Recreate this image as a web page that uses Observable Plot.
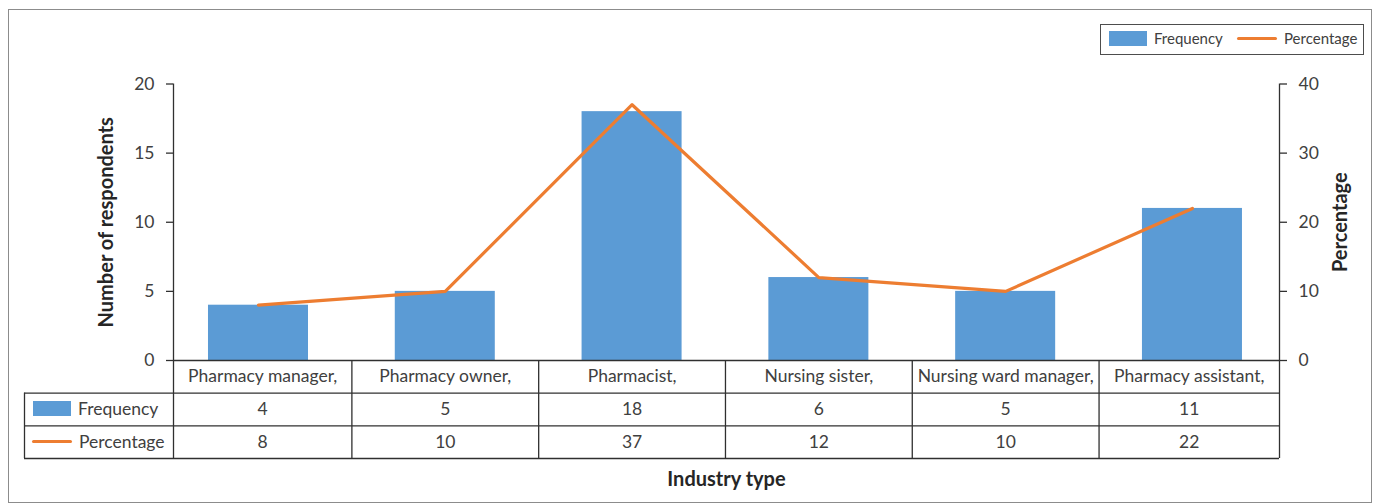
<!DOCTYPE html>
<html>
<head>
<meta charset="utf-8">
<script src="https://cdn.jsdelivr.net/npm/d3@7"></script>
<script src="https://cdn.jsdelivr.net/npm/@observablehq/plot@0.6"></script>
<style>
  body { margin: 0; background: #fff; }
  #chart { position: relative; width: 1375px; height: 503px; overflow: hidden; font-family: Lato, "Open Sans", sans-serif; color: #404040; }
  #chart svg { position: absolute; left: 0; top: 0; }
  .frame { position: absolute; left: 8px; top: 9px; width: 1364px; height: 494px; border: 1px solid #8c8c8c; box-sizing: border-box; }
  .legend { position: absolute; left: 1100px; top: 24px; width: 264px; height: 31px; border: 1px solid #4d4d4d; box-sizing: border-box; }
  .key { position: absolute; display: flex; align-items: center; white-space: nowrap; }
  .swatch-bar { width: 38px; height: 15px; background: #5B9BD5; margin-right: 7px; }
  .swatch-line { width: 40px; height: 3px; background: #ED7D31; border-radius: 2px; margin-right: 7px; }
</style>
</head>
<body>
<div id="chart">
  <div class="frame"></div>
</div>
<script>
// Respondents by industry type
const categories = ["Pharmacy manager,", "Pharmacy owner,", "Pharmacist,", "Nursing sister,", "Nursing ward manager,", "Pharmacy assistant,"];
const frequency = [4, 5, 18, 6, 5, 11];
const percentage = [8, 10, 37, 12, 10, 22];
const countTicks = [0, 5, 10, 15, 20];
const percentTicks = [0, 10, 20, 30, 40];
const seriesNames = ["Frequency", "Percentage"];

const W = 1375, H = 503;
const blue = "#5B9BD5", orange = "#ED7D31", ink = "#404040", ruleColor = "#303030", titleInk = "#262626";
const font = "Lato, 'Open Sans', sans-serif";
const textSize = 17.5, titleSize = 20;

// plot frame in pixels
const frameLeft = 173, frameRight = 1279, frameTop = 83.5, frameBottom = 360;
// x is the category index; the frame edges sit a little inside the outer bands
const xDomain = [-0.455, 5.466];
const unit = (frameRight - frameLeft) / (xDomain[1] - xDomain[0]);
const tableLeft = 24;
const tableXMin = xDomain[0] - (frameLeft - tableLeft) / unit;
const rowBottom = 458;

const countMax = countTicks[countTicks.length - 1];
const pctMax = percentTicks[percentTicks.length - 1];
const pctToCount = countMax / pctMax;

const data = categories.map((c, i) => ({ c, i, f: frequency[i], p: percentage[i] }));
const half = 0.2677; // half bar width in category units

const main = Plot.plot({
  width: W, height: H,
  marginLeft: frameLeft, marginRight: W - frameRight, marginTop: frameTop, marginBottom: H - frameBottom,
  x: { domain: xDomain, axis: null },
  y: { domain: [0, countMax], axis: null },
  style: { fontFamily: font, fontSize: textSize + "px", color: ink, background: "transparent", overflow: "visible" },
  marks: [
    Plot.rect(data, { x1: d => d.i - half, x2: d => d.i + half, y1: 0, y2: "f", fill: blue }),
    Plot.line(data, { x: "i", y: d => d.p * pctToCount, stroke: orange, strokeWidth: 3.2, strokeLinejoin: "round", strokeLinecap: "round" }),
    Plot.ruleX(xDomain, { y1: 0, y2: countMax, stroke: ruleColor, strokeWidth: 1.3 }),
    Plot.axisY(countTicks, { anchor: "left", tickSize: 7, tickPadding: 12, stroke: ruleColor, strokeWidth: 1.3, fill: ink, fontSize: textSize, label: null }),
    Plot.axisY(percentTicks.map(v => v * pctToCount), { anchor: "right", tickSize: 7, tickPadding: 12, tickFormat: v => v / pctToCount, stroke: ruleColor, strokeWidth: 1.3, fill: ink, fontSize: textSize, label: null }),
    Plot.text(["Number of respondents"], { frameAnchor: "left", textAnchor: "middle", dx: -67, rotate: -90, fontWeight: "bold", fontSize: titleSize, fill: titleInk }),
    Plot.text(["Percentage"], { frameAnchor: "right", textAnchor: "middle", dx: 61, rotate: -90, fontWeight: "bold", fontSize: titleSize, fill: titleInk }),
    Plot.text(["Industry type"], { frameAnchor: "bottom", dy: 125, fontWeight: "bold", fontSize: titleSize, fill: titleInk })
  ]
});

// data table under the axis: row 0 holds the category names, rows 1-2 the values
const edges = [xDomain[0], ...categories.slice(1).map((_, i) => i + 0.5), xDomain[1]];
const cells = data.map((d, i) => ({ ...d, cx: (edges[i] + edges[i + 1]) / 2 }));

const table = Plot.plot({
  width: W, height: H,
  marginLeft: tableLeft, marginRight: W - frameRight, marginTop: frameBottom, marginBottom: H - rowBottom,
  x: { domain: [tableXMin, xDomain[1]], axis: null },
  y: { domain: [0, 3], reverse: true, axis: null },
  style: { fontFamily: font, fontSize: textSize + "px", color: ink, background: "transparent", overflow: "visible" },
  marks: [
    Plot.ruleY([0], { x1: xDomain[0], x2: xDomain[1], stroke: ruleColor, strokeWidth: 1.3 }),
    Plot.ruleY([1, 2, 3], { x1: tableXMin, x2: xDomain[1], stroke: ruleColor, strokeWidth: 1.3 }),
    Plot.ruleX([tableXMin], { y1: 1, y2: 3, stroke: ruleColor, strokeWidth: 1.3 }),
    Plot.ruleX(edges, { y1: 0, y2: 3, stroke: ruleColor, strokeWidth: 1.3 }),
    Plot.text(cells, { x: "cx", y: 0.5, text: "c", fill: ink, fontSize: textSize }),
    Plot.text(cells, { x: "cx", y: 1.5, text: d => String(d.f), fill: ink, fontSize: textSize }),
    Plot.text(cells, { x: "cx", y: 2.5, text: d => String(d.p), fill: ink, fontSize: textSize })
  ]
});

const chart = document.getElementById("chart");
chart.appendChild(main);
chart.appendChild(table);

// series keys: table row headers and the top-right legend
function key(parent, kind, name, x, y, size) {
  const k = document.createElement("div");
  k.className = "key";
  k.style.left = x + "px";
  k.style.top = y + "px";
  k.style.fontSize = size + "px";
  const s = document.createElement("div");
  s.className = kind === "bar" ? "swatch-bar" : "swatch-line";
  const t = document.createElement("span");
  t.textContent = name;
  k.appendChild(s);
  k.appendChild(t);
  parent.appendChild(k);
}
key(chart, "bar", seriesNames[0], 33, 398, textSize);
key(chart, "line", seriesNames[1], 32, 431, textSize);

const legend = document.createElement("div");
legend.className = "legend";
chart.appendChild(legend);
key(legend, "bar", seriesNames[0], 8, 4, 15);
key(legend, "line", seriesNames[1], 136, 4, 15);
</script>
</body>
</html>
